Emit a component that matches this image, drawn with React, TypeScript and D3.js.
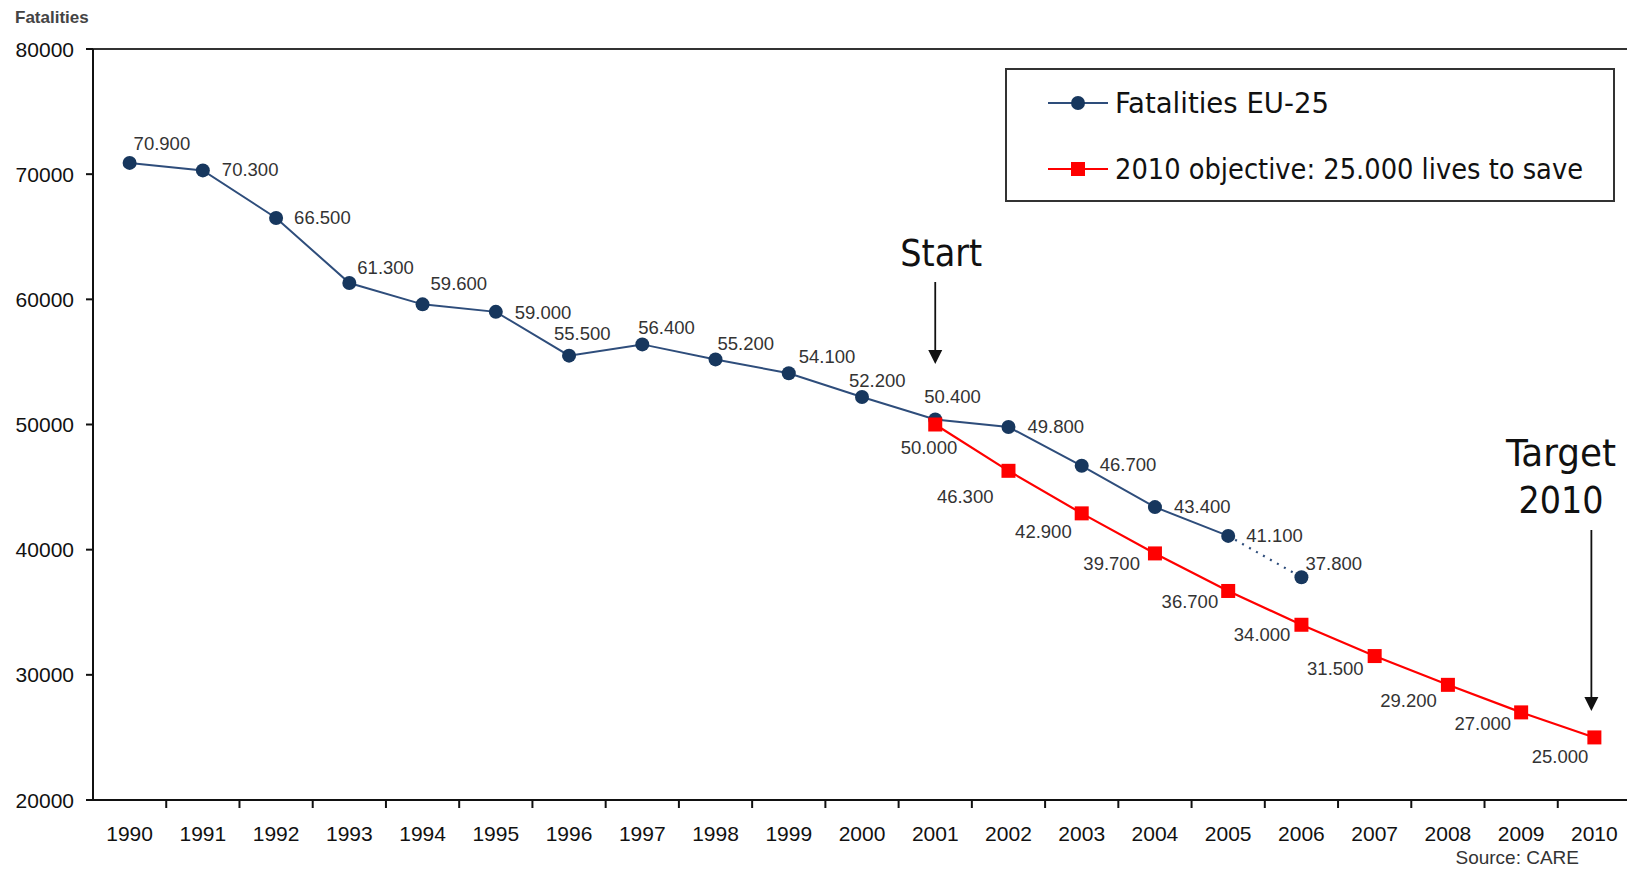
import React, { useEffect, useRef } from 'react';
import * as d3 from 'd3';

const years = d3.range(1990, 2011).map(String);

const fatalityYears = years.slice(0, 17);
const fatalities = [70900, 70300, 66500, 61300, 59600, 59000, 55500, 56400, 55200, 54100, 52200, 50400, 49800, 46700, 43400, 41100, 37800];

const objectiveYears = years.slice(11);
const objective = [50000, 46300, 42900, 39700, 36700, 34000, 31500, 29200, 27000, 25000];

const yTicks = [20000, 30000, 40000, 50000, 60000, 70000, 80000];

// label nudges in px relative to the point (layout only)
const fatalNudge = [[4, -20], [19, -1], [18, -1], [8, -16], [8, -21], [19, 0], [-15, -22], [-4, -17], [2, -16], [10, -17], [-13, -17], [-11, -23], [19, -1], [18, -1], [19, -1], [18, -1], [4, -14]];
const objNudge = [[22, 23], [-15, 26], [-10, 18], [-15, 10], [-10, 10], [-11, 10], [-11, 12], [-11, 15], [-10, 11], [-6, 19]];

const W = 1627, H = 869;
const BLUE = '#17375e';
const BLUE_LINE = '#2e4d7b';
const RED = '#ff0000';

const App = () => {
  const svgRef = useRef<SVGSVGElement>(null);

  useEffect(() => {
    const svg = d3.select(svgRef.current).attr('width', W).attr('height', H);
    svg.selectAll('*').remove();

    const x = d3.scaleBand().domain(years).range([93, 1631]).padding(0);
    const y = d3.scaleLinear().domain([20000, 80000]).range([800, 49]);
    const cx = (yr: string) => (x(yr) as number) + x.bandwidth() / 2;
    const fmt = d3.formatLocale({ decimal: ',', thousands: '.', grouping: [3], currency: ['', ''] }).format(',');

    svg.append('rect').attr('width', W).attr('height', H).attr('fill', '#fff');

    // frame
    svg.append('line').attr('x1', 93).attr('x2', W).attr('y1', y(80000)).attr('y2', y(80000))
      .attr('stroke', '#333').attr('stroke-width', 2);
    svg.append('line').attr('x1', 93).attr('x2', 93).attr('y1', y(80000)).attr('y2', y(20000))
      .attr('stroke', '#111').attr('stroke-width', 2);
    svg.append('line').attr('x1', 86).attr('x2', W).attr('y1', y(20000)).attr('y2', y(20000))
      .attr('stroke', '#111').attr('stroke-width', 2);

    // y ticks
    const yt = svg.append('g');
    yt.selectAll('line').data(yTicks).join('line')
      .attr('x1', 86).attr('x2', 93).attr('y1', d => y(d)).attr('y2', d => y(d))
      .attr('stroke', '#111').attr('stroke-width', 2);
    yt.selectAll('text').data(yTicks).join('text')
      .attr('x', 74).attr('y', d => y(d)).attr('dy', '0.36em').attr('text-anchor', 'end')
      .attr('font-family', 'Liberation Sans, Arial, sans-serif').attr('font-size', 21).attr('fill', '#111')
      .text(d => d);

    // x ticks
    const xt = svg.append('g');
    xt.selectAll('line').data(years.slice(1)).join('line')
      .attr('x1', d => x(d) as number).attr('x2', d => x(d) as number)
      .attr('y1', y(20000)).attr('y2', y(20000) + 8)
      .attr('stroke', '#111').attr('stroke-width', 2);
    xt.selectAll('text').data(years).join('text')
      .attr('x', d => cx(d)).attr('y', 833).attr('dy', '0.36em').attr('text-anchor', 'middle')
      .attr('font-family', 'Liberation Sans, Arial, sans-serif').attr('font-size', 21).attr('fill', '#111')
      .text(d => d);

    svg.append('text').attr('x', 15).attr('y', 23)
      .attr('font-family', 'Liberation Sans, Arial, sans-serif').attr('font-size', 17).attr('font-weight', 'bold')
      .attr('fill', '#444').text('Fatalities');

    // fatalities line
    const fPts = fatalityYears.map((yr, i) => [cx(yr), y(fatalities[i])] as [number, number]);
    const line = d3.line();
    svg.append('path').attr('d', line(fPts.slice(0, 16)))
      .attr('fill', 'none').attr('stroke', BLUE_LINE).attr('stroke-width', 2);
    svg.append('path').attr('d', line(fPts.slice(15)))
      .attr('fill', 'none').attr('stroke', BLUE_LINE).attr('stroke-width', 2.2).attr('stroke-dasharray', '2,6');
    svg.append('g').selectAll('circle').data(fPts).join('circle')
      .attr('cx', d => d[0]).attr('cy', d => d[1]).attr('r', 7).attr('fill', BLUE);

    // objective line
    const oPts = objectiveYears.map((yr, i) => [cx(yr), y(objective[i])] as [number, number]);
    svg.append('path').attr('d', line(oPts))
      .attr('fill', 'none').attr('stroke', RED).attr('stroke-width', 2.2);
    svg.append('g').selectAll('rect').data(oPts).join('rect')
      .attr('x', d => d[0] - 7).attr('y', d => d[1] - 7).attr('width', 14).attr('height', 14).attr('fill', RED);

    // data labels
    const lblFont = 'Liberation Sans, Arial, sans-serif';
    svg.append('g').selectAll('text').data(fPts).join('text')
      .attr('x', (d, i) => d[0] + fatalNudge[i][0]).attr('y', (d, i) => d[1] + fatalNudge[i][1])
      .attr('dy', '0.36em').attr('font-family', lblFont).attr('font-size', 18.5).attr('fill', '#333')
      .text((d, i) => fmt(fatalities[i]));
    svg.append('g').selectAll('text').data(oPts).join('text')
      .attr('x', (d, i) => d[0] + objNudge[i][0]).attr('y', (d, i) => d[1] + objNudge[i][1])
      .attr('dy', '0.36em').attr('text-anchor', 'end').attr('font-family', lblFont).attr('font-size', 18.5).attr('fill', '#333')
      .text((d, i) => fmt(objective[i]));

    // annotations
    const annFont = 'DejaVu Sans Condensed, Liberation Sans Narrow, Liberation Sans, sans-serif';
    const arrow = (xp: number, y1: number, y2: number) => {
      svg.append('line').attr('x1', xp).attr('x2', xp).attr('y1', y1).attr('y2', y2 - 12)
        .attr('stroke', '#111').attr('stroke-width', 1.8);
      svg.append('path').attr('d', `M${xp - 7},${y2 - 14}L${xp + 7},${y2 - 14}L${xp},${y2}Z`).attr('fill', '#111');
    };
    svg.append('text').attr('x', cx('2001') + 6).attr('y', 266).attr('text-anchor', 'middle')
      .attr('font-family', annFont).attr('font-size', 37).attr('fill', '#111')
      .attr('textLength', 82).attr('lengthAdjust', 'spacingAndGlyphs').text('Start');
    arrow(cx('2001'), 282, 364);
    svg.append('text').attr('x', 1561).attr('y', 466).attr('text-anchor', 'middle')
      .attr('font-family', annFont).attr('font-size', 37).attr('fill', '#111')
      .attr('textLength', 110).attr('lengthAdjust', 'spacingAndGlyphs').text('Target');
    svg.append('text').attr('x', 1561).attr('y', 513).attr('text-anchor', 'middle')
      .attr('font-family', annFont).attr('font-size', 37).attr('fill', '#111')
      .attr('textLength', 85).attr('lengthAdjust', 'spacingAndGlyphs').text('2010');
    arrow(cx('2010') - 3, 530, 711);

    // legend
    const lg = svg.append('g');
    lg.append('rect').attr('x', 1006).attr('y', 69).attr('width', 608).attr('height', 132)
      .attr('fill', '#fff').attr('stroke', '#333').attr('stroke-width', 2);
    const entries = [
      { label: 'Fatalities EU-25', color: BLUE_LINE, mark: 'circle', w: 214 },
      { label: '2010 objective: 25.000 lives to save', color: RED, mark: 'square', w: 468 },
    ];
    entries.forEach((e, i) => {
      const ly = 103 + i * 66;
      lg.append('line').attr('x1', 1048).attr('x2', 1108).attr('y1', ly).attr('y2', ly)
        .attr('stroke', e.color).attr('stroke-width', 2.2);
      if (e.mark === 'circle') lg.append('circle').attr('cx', 1078).attr('cy', ly).attr('r', 7).attr('fill', BLUE);
      else lg.append('rect').attr('x', 1071).attr('y', ly - 7).attr('width', 14).attr('height', 14).attr('fill', RED);
      lg.append('text').attr('x', 1115).attr('y', ly).attr('dy', '0.36em')
        .attr('font-family', annFont).attr('font-size', 29).attr('fill', '#111')
        .attr('textLength', e.w).attr('lengthAdjust', 'spacingAndGlyphs').text(e.label);
    });

    svg.append('text').attr('x', 1579).attr('y', 857).attr('dy', '0.36em').attr('text-anchor', 'end')
      .attr('font-family', lblFont).attr('font-size', 19).attr('fill', '#333').text('Source: CARE');
  }, []);

  return (
    <div style={{ position: 'absolute', left: 0, top: 0 }}>
      <svg ref={svgRef}></svg>
    </div>
  );
};

export default App;
